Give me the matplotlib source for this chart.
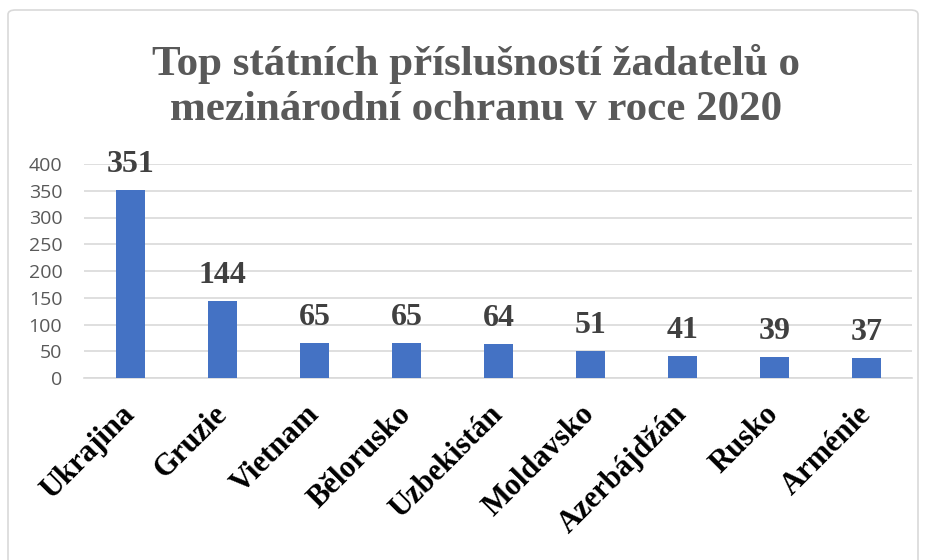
"""
Graf: top státních příslušností žadatelů o mezinárodní ochranu v roce 2020.
"""

import matplotlib
matplotlib.use('Agg')
import matplotlib.pyplot as plt
from matplotlib.patches import FancyBboxPatch

# Data
zeme = ['Ukrajina', 'Gruzie', 'Vietnam', 'Bělorusko', 'Uzbekistán',
        'Moldavsko', 'Azerbájdžán', 'Rusko', 'Arménie']
pocty = [351, 144, 65, 65, 64, 51, 41, 39, 37]
y_ticks = [0, 50, 100, 150, 200, 250, 300, 350, 400]

BAR_COLOR = '#4472C4'
GRID_COLOR = '#D9D9D9'
TITLE_COLOR = '#595959'
LABEL_COLOR = '#404040'
SERIF = 'Liberation Serif'

fig = plt.figure(figsize=(9.28, 5.6), dpi=100)

# Rámeček grafu
frame = FancyBboxPatch((8 / 928, -0.05), 910 / 928, 1.05 - 10 / 560,
                       boxstyle='round,pad=0,rounding_size=0.008',
                       transform=fig.transFigure, facecolor='white',
                       edgecolor=GRID_COLOR, linewidth=1.2, zorder=-5)
fig.patches.append(frame)

ax = fig.add_axes([84.5 / 928, 182 / 560, 828 / 928, 214 / 560])
ax.set_facecolor('none')
ax.set_zorder(2)

x = range(len(zeme))
ax.bar(x, pocty, width=0.315, color=BAR_COLOR, zorder=3)

ax.set_xlim(-0.5, len(zeme) - 0.5)
ax.set_ylim(0, 400)
ax.set_yticks(y_ticks)
ax.set_yticklabels([str(v) for v in y_ticks], fontfamily='Open Sans',
                   fontsize=14, color=TITLE_COLOR)
ax.tick_params(axis='y', length=0, pad=16)
ax.grid(True, axis='y', color=GRID_COLOR, linewidth=1.2, zorder=0)

for side in ['top', 'right', 'left']:
    ax.spines[side].set_visible(False)
ax.spines['bottom'].set_color(GRID_COLOR)
ax.spines['bottom'].set_linewidth(1.2)

ax.set_xticks(list(x))
ax.set_xticklabels(zeme, rotation=45, ha='right', va='center',
                   rotation_mode='anchor', fontfamily=SERIF,
                   fontweight='bold', fontsize=22, color='black')
ax.tick_params(axis='x', length=0, pad=23)

# Popisky hodnot
for xi, v in zip(x, pocty):
    ax.annotate(str(v), (xi, v), xytext=(0, 13), textcoords='offset points',
                ha='center', va='baseline', fontfamily=SERIF,
                fontweight='bold', fontsize=23, color=LABEL_COLOR)

fig.text(476 / 928, 1 - 86 / 560,
         'Top státních příslušností žadatelů o\nmezinárodní ochranu v roce 2020',
         ha='center', va='center', fontfamily=SERIF, fontweight='bold',
         fontsize=31, color=TITLE_COLOR, linespacing=1.24)

fig.savefig('out.png', dpi=100)
